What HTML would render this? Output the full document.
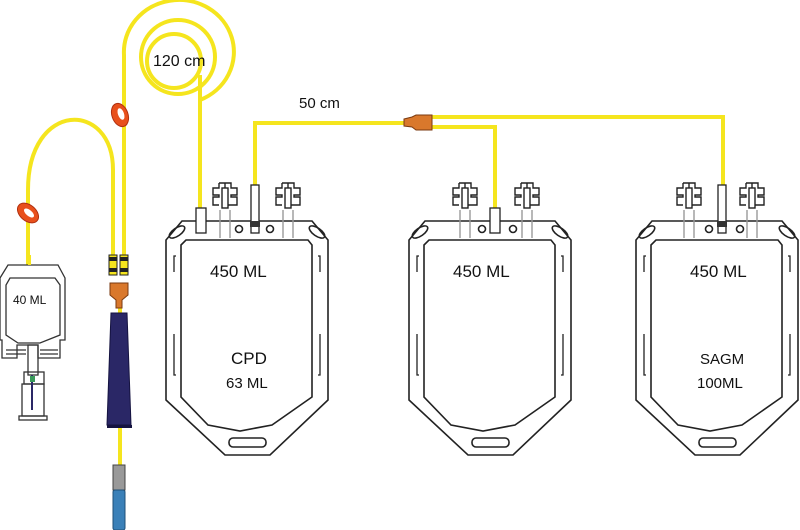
<!DOCTYPE html>
<html><head><meta charset="utf-8"><style>body{margin:0;background:#fff}svg{display:block}</style></head><body>
<svg width="800" height="530" viewBox="0 0 800 530" xmlns="http://www.w3.org/2000/svg" font-family="Liberation Sans, sans-serif">
<defs>
<g id="bag" fill="none" stroke="#222" stroke-width="1.6">
  <path d="M182,221 L312,221 L328,240 L328,400 L270,455 L225,455 L166,400 L166,240 Z" fill="#fff"/>
  <path d="M186,240 L308,240 L312,245 L312,397 L272,425 L240,431 L208,425 L181,397 L181,245 Z"/>
  <ellipse cx="177" cy="232" rx="9" ry="4" transform="rotate(-35 177 232)"/>
  <ellipse cx="317" cy="232" rx="9" ry="4" transform="rotate(35 317 232)"/>
  <rect x="229" y="438" width="37" height="9" rx="4"/>
  <circle cx="239" cy="229" r="3.5"/><circle cx="270" cy="229" r="3.5"/>
  <path d="M176,256 L174,256 L174,272 M174,334 L174,375 L176,375 M318,256 L320,256 L320,272 M320,334 L320,375 L318,375" stroke-width="1.3"/>
</g>
<g id="clip" fill="#fff" stroke="#222" stroke-width="1.4">
  <line x1="-5" y1="0" x2="-5" y2="28" stroke="#999"/><line x1="5" y1="0" x2="5" y2="28" stroke="#999"/>
  <path d="M-6,-27 h12 v5 h6 v7 h-6 v2 h6 v8 h-12 v-22 z M-6,-27 h-0 v5 h-6 v7 h6 v2 h-6 v8 h6"/>
  <rect x="-3" y="-22" width="6" height="20"/>
</g>
</defs>
<use href="#bag"/>
<use href="#bag" transform="translate(243,0)"/>
<use href="#bag" transform="translate(470,0)"/>
<use href="#clip" transform="translate(225,210)"/>
<use href="#clip" transform="translate(288,210)"/>
<use href="#clip" transform="translate(465,210)"/>
<use href="#clip" transform="translate(527,210)"/>
<use href="#clip" transform="translate(689,210)"/>
<use href="#clip" transform="translate(752,210)"/>
<g fill="none" stroke="#f5e51e" stroke-width="4">
  <path d="M255,208 L255,123 L405,123"/>
  <path d="M432,117 L723,117 L723,215"/>
  <path d="M432,127 L495,127 L495,210"/>
  <path d="M200,208 L200,75"/>
  <circle cx="174" cy="61" r="27"/>
  <circle cx="178" cy="57" r="37"/>
  <path d="M124,255 L124,55 A55,52 0 1 1 200,100"/>
  <path d="M113,255 L113,170 C113,100 28,100 28,190 L28,265"/>
  <path d="M120,305 L120,313 M120,428 L120,465"/>
</g>
<rect x="196" y="208" width="10" height="25" fill="#fff" stroke="#222" stroke-width="1.3"/>
<rect x="490" y="208" width="10" height="25" fill="#fff" stroke="#222" stroke-width="1.3"/>
<rect x="251" y="185" width="8" height="48" fill="#fff" stroke="#222" stroke-width="1.3"/>
<rect x="718" y="185" width="8" height="48" fill="#fff" stroke="#222" stroke-width="1.3"/>
<rect x="250" y="221" width="10" height="6" fill="#333"/>
<rect x="717" y="221" width="10" height="6" fill="#333"/>
<path d="M404,119 L412,117 L416,115 L432,115 L432,130 L416,130 L412,127 L404,126 Z" fill="#d9782c" stroke="#7a3a10" stroke-width="1"/>
<g fill="#e8501c" stroke="#b03010" stroke-width="1">
  <ellipse cx="120" cy="115" rx="8" ry="12" transform="rotate(-20 120 115)"/>
  <ellipse cx="28" cy="213" rx="8" ry="12" transform="rotate(-50 28 213)"/>
</g>
<ellipse cx="121" cy="114" rx="3" ry="6" fill="#fff" transform="rotate(-20 121 114)"/>
<ellipse cx="29" cy="213" rx="3" ry="6" fill="#fff" transform="rotate(-50 29 213)"/>
<rect x="109" y="255" width="8" height="20" fill="#f5e51e" stroke="#222" stroke-width="1"/>
<rect x="120" y="255" width="8" height="20" fill="#f5e51e" stroke="#222" stroke-width="1"/>
<rect x="109" y="257" width="8" height="4" fill="#222"/><rect x="120" y="257" width="8" height="4" fill="#222"/>
<rect x="109" y="268" width="8" height="4" fill="#222"/><rect x="120" y="268" width="8" height="4" fill="#222"/>
<path d="M110,283 L128,283 L128,295 L122,300 L122,308 L116,308 L116,300 L110,295 Z" fill="#d9782c" stroke="#7a3a10"/>
<path d="M111,313 L127,313 L131,425 L107,425 Z" fill="#2a2766" stroke="#151340"/>
<rect x="107" y="425" width="25" height="3" fill="#151340"/>
<rect x="113" y="465" width="12" height="25" fill="#999" stroke="#444"/>
<rect x="113" y="490" width="12" height="40" rx="2" fill="#3a80b8" stroke="#1f4f77"/>
<g fill="none" stroke="#333" stroke-width="1.3">
  <path d="M8,265 L58,265 L65,278 L65,340 L60,340 L60,358 L38,358 L38,345 L17,345 L17,358 L2,358 L2,340 L0,340 L0,278 Z" fill="#fff"/>
  <path d="M10,278 L55,278 L60,285 L60,335 L40,343 L18,343 L6,335 L6,285 Z"/>
  <path d="M6,350 h20 M6,354 h20 M40,350 h18 M40,354 h18"/>
  <rect x="28" y="345" width="10" height="30"/>
  <rect x="24" y="372" width="20" height="12"/>
  <rect x="22" y="384" width="22" height="32"/>
  <rect x="19" y="416" width="28" height="4"/>
</g>
<rect x="28" y="255" width="3" height="10" fill="#f5e51e"/>
<line x1="32" y1="375" x2="32" y2="410" stroke="#2a2766" stroke-width="2"/>
<rect x="30" y="376" width="5" height="6" fill="#3a9a5a"/>
<g fill="#111">
  <text x="153" y="66" font-size="16">120 cm</text>
  <text x="299" y="108" font-size="15">50 cm</text>
  <text x="210" y="277" font-size="17">450 ML</text>
  <text x="453" y="277" font-size="17">450 ML</text>
  <text x="690" y="277" font-size="17">450 ML</text>
  <text x="231" y="364" font-size="17">CPD</text>
  <text x="226" y="388" font-size="15">63 ML</text>
  <text x="700" y="364" font-size="15">SAGM</text>
  <text x="697" y="388" font-size="15">100ML</text>
  <text x="13" y="304" font-size="12">40 ML</text>
</g>
</svg>
</body></html>
